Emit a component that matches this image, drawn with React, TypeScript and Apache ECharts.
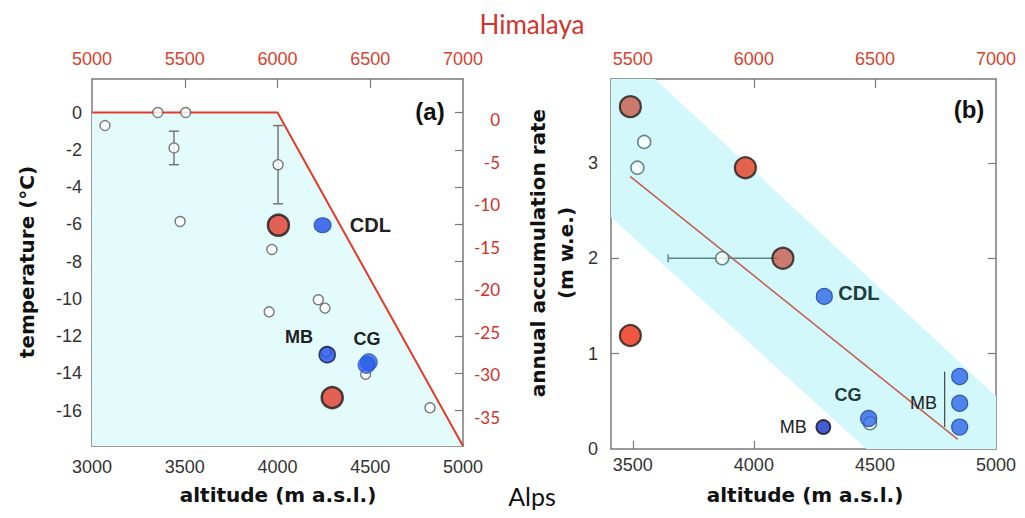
import React, { useEffect, useRef } from "react";
import * as echarts from "echarts";

// ---------- Panel (a) data ----------
const xTicksA = [3000, 3500, 4000, 4500, 5000];
const xTopTicksA = [5000, 5500, 6000, 6500, 7000];
const yTicksA = [0, -2, -4, -6, -8, -10, -12, -14, -16];
const yRightTicksA = [0, -5, -10, -15, -20, -25, -30, -35];
const coldLineA = [[3000, 0], [4000, 0], [5000, -17.9]];
const openA = [
  [3070, -0.7], [3355, 0], [3505, 0], [3442, -1.9], [3475, -5.85],
  [4003, -2.8], [3970, -7.35], [3955, -10.7], [4220, -10.05], [4256, -10.5],
  [4262, -12.85], [4475, -14.05], [4822, -15.85],
];
const errA = [[3442, -1.0, -2.8], [4003, -0.7, -4.9]];
const redA = [[4005, -6.05], [4295, -15.3]];
const blueCdlA = [[4243, -6.05]];
const blueMbA = [[4268, -13.0]];
const blueCgA = [[4492, -13.4], [4480, -13.55]];
const labelsA = [
  [4390, -6.05, "CDL", "left"],
  [4116, -12.05, "MB", "center"],
  [4482, -12.15, "CG", "center"],
];

// ---------- Panel (b) data ----------
const xTicksB = [3500, 4000, 4500, 5000];
const xTopTicksB = [5500, 6000, 6500, 7000];
const yTicksB = [0, 1, 2, 3];
const bandB = [[3410, 3.88], [3592, 3.88], [5000, 0.556], [5000, 0], [4465, 0], [3410, 2.43]];
const regLineB = [[3489, 2.86], [4842, 0.1]];
const mbLineB = [[4788, 0.23], [4788, 0.81]];
const openB = [[3547, 3.22], [3519, 2.95], [3869, 2.0], [4480, 0.27]];
const errB = [[2.0, 3646, 4100]];
const redB = [[3490, 3.59], [3965, 2.95], [4120, 2.0], [3490, 1.19]];
const redColorsB = ["#c9574a", "#e53d20", "#c95a4a", "#ee2c12"];
const blueB = [[4291, 1.6], [4474, 0.32], [4850, 0.76], [4850, 0.48], [4850, 0.23]];
const blueDarkB = [[4287, 0.23]];
const labelsBoldB = [[4349, 1.64, "CDL", "left"], [4333, 0.57, "CG", "left"]];
const labelsPlainB = [[4163, 0.23, "MB", "center"], [4701, 0.48, "MB", "center"]];

const SANS = "'Liberation Sans', Arial, Helvetica, sans-serif";
const AXIS_COLOR = "#7a7a7a";
const RED_TEXT = "#d8422f";

export default function App() {
  const ref = useRef<HTMLDivElement>(null);

  useEffect(() => {
    if (!ref.current) return;
    const chart = echarts.init(ref.current, undefined, { renderer: "svg" });

    const lineStyle = { color: AXIS_COLOR, width: 1.5 };
    const axisLine = { show: true, onZero: false, lineStyle };
    const tickStyle = { show: true, inside: true, length: 8, lineStyle: { color: AXIS_COLOR, width: 1.2 } };
    const plain = (v: number) => String(v);
    const labelBase = { color: "#333", fontSize: 18, fontFamily: SANS, formatter: plain };

    const textSeries = (xi: number, yi: number, data: any[], font: any) => ({
      type: "custom",
      xAxisIndex: xi,
      yAxisIndex: yi,
      z: 10,
      data: data.map((d) => [d[0], d[1]]),
      renderItem: (params: any, api: any) => {
        const p = api.coord([api.value(0), api.value(1)]);
        const d = data[params.dataIndex];
        return {
          type: "text",
          x: p[0],
          y: p[1],
          style: {
            text: d[2], align: d[3], verticalAlign: "middle", ...font,
            fontSize: d[2] === "CDL" ? 20 : 18,
          },
        };
      },
    });

    const option: any = {
      animation: false,
      backgroundColor: "#ffffff",
      grid: [
        { left: 92, top: 79, width: 371, height: 367 },
        { left: 611, top: 79, width: 385, height: 370 },
      ],
      xAxis: [
        {
          gridIndex: 0, type: "value", position: "bottom", min: 3000, max: 5000, interval: 500,
          axisLine, splitLine: { show: false },
          axisTick: { ...tickStyle, length: 7, customValues: [3500, 4000, 4500] },
          axisLabel: { ...labelBase, margin: 12, customValues: xTicksA },
        },
        {
          gridIndex: 0, type: "value", position: "top", min: 5000, max: 7000, interval: 500,
          axisLine, splitLine: { show: false },
          axisTick: { ...tickStyle, length: 9, customValues: [5500, 6000, 6500] },
          axisLabel: { ...labelBase, color: RED_TEXT, margin: 11, customValues: xTopTicksA },
        },
        {
          gridIndex: 1, type: "value", position: "bottom", min: 3410, max: 5000,
          axisLine, splitLine: { show: false },
          axisTick: { ...tickStyle, length: 8, customValues: [3500, 4000, 4500] },
          axisLabel: { ...labelBase, margin: 7, customValues: xTicksB },
        },
        {
          gridIndex: 1, type: "value", position: "top", min: 5410, max: 7000,
          axisLine, splitLine: { show: false },
          axisTick: { ...tickStyle, length: 9, customValues: [5500, 6000, 6500] },
          axisLabel: { ...labelBase, color: RED_TEXT, margin: 11, customValues: xTopTicksB },
        },
      ],
      yAxis: [
        {
          gridIndex: 0, type: "value", position: "left", min: -17.9, max: 1.8,
          axisLine, splitLine: { show: false },
          axisTick: { ...tickStyle, length: 6, customValues: yTicksA.filter((v) => v !== 0) },
          axisLabel: { ...labelBase, margin: 10, customValues: yTicksA },
        },
        {
          gridIndex: 0, type: "value", position: "right", min: -17.9, max: 1.8,
          axisLine, splitLine: { show: false },
          axisTick: { ...tickStyle, length: 8, customValues: yTicksA },
          axisLabel: { show: false },
        },
        {
          gridIndex: 0, type: "value", position: "right", min: -38.4, max: 4.8,
          axisLine: { show: false, onZero: false }, splitLine: { show: false }, axisTick: { show: false },
          axisLabel: {
            color: "#d0302a", fontSize: 17, fontFamily: "Lato, 'Open Sans', sans-serif",
            margin: 37, align: "right", customValues: yRightTicksA, formatter: plain,
          },
        },
        {
          gridIndex: 1, type: "value", position: "left", min: 0, max: 3.88, interval: 1,
          axisLine, splitLine: { show: false },
          axisTick: { ...tickStyle, length: 8, customValues: [1, 2, 3] },
          axisLabel: { ...labelBase, margin: 13, customValues: yTicksB },
        },
        {
          gridIndex: 1, type: "value", position: "right", min: 0, max: 3.88, interval: 1,
          axisLine, splitLine: { show: false },
          axisTick: { ...tickStyle, length: 8, customValues: [1, 2, 3] },
          axisLabel: { show: false },
        },
      ],
      series: [
        // ----- panel (a)
        {
          type: "line", xAxisIndex: 0, yAxisIndex: 0, data: coldLineA, symbol: "none", z: 1,
          lineStyle: { color: "#e23a2c", width: 2 },
          areaStyle: { color: "#e3fbfb", opacity: 1, origin: "start" },
        },
        {
          type: "custom", xAxisIndex: 0, yAxisIndex: 0, z: 3, data: errA,
          renderItem: (params: any, api: any) => {
            const x = api.value(0);
            const top = api.coord([x, api.value(1)]);
            const bot = api.coord([x, api.value(2)]);
            const w = 5;
            const st = { stroke: "#6f6f6f", lineWidth: 1.4 };
            return {
              type: "group",
              children: [
                { type: "line", shape: { x1: top[0], y1: top[1], x2: bot[0], y2: bot[1] }, style: st },
                { type: "line", shape: { x1: top[0] - w, y1: top[1], x2: top[0] + w, y2: top[1] }, style: st },
                { type: "line", shape: { x1: bot[0] - w, y1: bot[1], x2: bot[0] + w, y2: bot[1] }, style: st },
              ],
            };
          },
        },
        {
          type: "scatter", xAxisIndex: 0, yAxisIndex: 0, data: openA, symbol: "circle", symbolSize: 10, z: 4,
          itemStyle: { color: "#ffffff", borderColor: "#5a5a5a", borderWidth: 1.4 },
        },
        {
          type: "scatter", xAxisIndex: 0, yAxisIndex: 0, data: redA, symbol: "circle", symbolSize: 21, z: 5,
          itemStyle: { color: "#e23b2a", borderColor: "#1a1a1a", borderWidth: 2.5 },
        },
        {
          type: "scatter", xAxisIndex: 0, yAxisIndex: 0, data: blueCdlA, symbol: "circle", symbolSize: [17, 15], z: 5,
          itemStyle: { color: "#1f4fe6", borderColor: "#1b3ea8", borderWidth: 1 },
        },
        {
          type: "scatter", xAxisIndex: 0, yAxisIndex: 0, data: blueMbA, symbol: "circle", symbolSize: 16, z: 5,
          itemStyle: { color: "#1f4de8", borderColor: "#1a1a40", borderWidth: 1.6 },
        },
        {
          type: "scatter", xAxisIndex: 0, yAxisIndex: 0, data: blueCgA, symbol: "circle", symbolSize: 17, z: 5,
          itemStyle: { color: "#2c5fe8", borderColor: "#2850c0", borderWidth: 1 },
        },
        textSeries(0, 0, labelsA, { fontWeight: "bold", fontFamily: SANS, fill: "#1c2222" }),

        // ----- panel (b)
        {
          type: "custom", xAxisIndex: 2, yAxisIndex: 3, z: 1, data: [[bandB[0][0], bandB[0][1]]],
          renderItem: (params: any, api: any) => ({
            type: "polygon",
            shape: { points: bandB.map((p) => api.coord(p)) },
            style: { fill: "#d2f8fb" },
          }),
        },
        {
          type: "line", xAxisIndex: 2, yAxisIndex: 3, data: regLineB, symbol: "none", z: 2,
          lineStyle: { color: "#c4604f", width: 1.6 },
        },
        {
          type: "line", xAxisIndex: 2, yAxisIndex: 3, data: mbLineB, symbol: "none", z: 2,
          lineStyle: { color: "#444", width: 1.2 },
        },
        {
          type: "custom", xAxisIndex: 2, yAxisIndex: 3, z: 3, data: errB,
          renderItem: (params: any, api: any) => {
            const y = api.value(0);
            const l = api.coord([api.value(1), y]);
            const r = api.coord([api.value(2), y]);
            const st = { stroke: "#5d8585", lineWidth: 1.4 };
            return {
              type: "group",
              children: [
                { type: "line", shape: { x1: l[0], y1: l[1], x2: r[0], y2: r[1] }, style: st },
                { type: "line", shape: { x1: l[0], y1: l[1] - 4, x2: l[0], y2: l[1] + 4 }, style: st },
              ],
            };
          },
        },
        {
          type: "scatter", xAxisIndex: 2, yAxisIndex: 3, data: openB, symbol: "circle", symbolSize: 13, z: 4,
          itemStyle: { color: "#ffffff", borderColor: "#3f6a6a", borderWidth: 1.5 },
        },
        {
          type: "scatter", xAxisIndex: 2, yAxisIndex: 3, symbol: "circle", symbolSize: 21, z: 5,
          data: redB.map((p, i) => ({ value: p, itemStyle: { color: redColorsB[i] } })),
          itemStyle: { borderColor: "#1e1e1e", borderWidth: 2.2 },
        },
        {
          type: "scatter", xAxisIndex: 2, yAxisIndex: 3, data: blueB, symbol: "circle", symbolSize: 16, z: 5,
          itemStyle: { color: "#2e66ea", borderColor: "#1f3f95", borderWidth: 1.2 },
        },
        {
          type: "scatter", xAxisIndex: 2, yAxisIndex: 3, data: blueDarkB, symbol: "circle", symbolSize: 14, z: 5,
          itemStyle: { color: "#1532c8", borderColor: "#111", borderWidth: 1.8 },
        },
        textSeries(2, 3, labelsBoldB, { fontWeight: "bold", fontFamily: SANS, fill: "#1f3b3b" }),
        textSeries(2, 3, labelsPlainB, { fontFamily: SANS, fill: "#222" }),
      ],
      graphic: [
        { type: "text", x: 532, y: 24, style: { text: "Himalaya", fill: "#d0342a", fontSize: 26, fontFamily: "Lato, sans-serif", align: "center", verticalAlign: "middle" } },
        { type: "text", x: 532, y: 496, style: { text: "Alps", fill: "#111", fontSize: 25, fontFamily: "Lato, sans-serif", align: "center", verticalAlign: "middle" } },
        { type: "text", x: 278, y: 495, style: { text: "altitude (m a.s.l.)", fill: "#111", fontSize: 20, fontWeight: "bold", fontFamily: "'DejaVu Sans', sans-serif", align: "center", verticalAlign: "middle" } },
        { type: "text", x: 805, y: 495, style: { text: "altitude (m a.s.l.)", fill: "#111", fontSize: 20, fontWeight: "bold", fontFamily: "'DejaVu Sans', sans-serif", align: "center", verticalAlign: "middle" } },
        { type: "text", x: 27, y: 262, rotation: Math.PI / 2, style: { text: "temperature (°C)", fill: "#111", fontSize: 20, fontWeight: "bold", fontFamily: "'DejaVu Sans', sans-serif", align: "center", verticalAlign: "middle" } },
        { type: "text", x: 538, y: 253, rotation: Math.PI / 2, style: { text: "annual accumulation rate", fill: "#111", fontSize: 20, fontWeight: "bold", fontFamily: "'DejaVu Sans', sans-serif", align: "center", verticalAlign: "middle" } },
        { type: "text", x: 566, y: 253, rotation: Math.PI / 2, style: { text: "(m w.e.)", fill: "#111", fontSize: 20, fontWeight: "bold", fontFamily: "'DejaVu Sans', sans-serif", align: "center", verticalAlign: "middle" } },
        { type: "text", x: 430, y: 111, style: { text: "(a)", fill: "#111", fontSize: 24, fontWeight: "bold", fontFamily: SANS, align: "center", verticalAlign: "middle" } },
        { type: "text", x: 969, y: 109, style: { text: "(b)", fill: "#111", fontSize: 24, fontWeight: "bold", fontFamily: SANS, align: "center", verticalAlign: "middle" } },
      ],
    };

    chart.setOption(option);
    return () => chart.dispose();
  }, []);

  return (
    <div
      ref={ref}
      style={{ position: "fixed", left: 0, top: 0, width: 1025, height: 518, background: "#fff" }}
    />
  );
}
